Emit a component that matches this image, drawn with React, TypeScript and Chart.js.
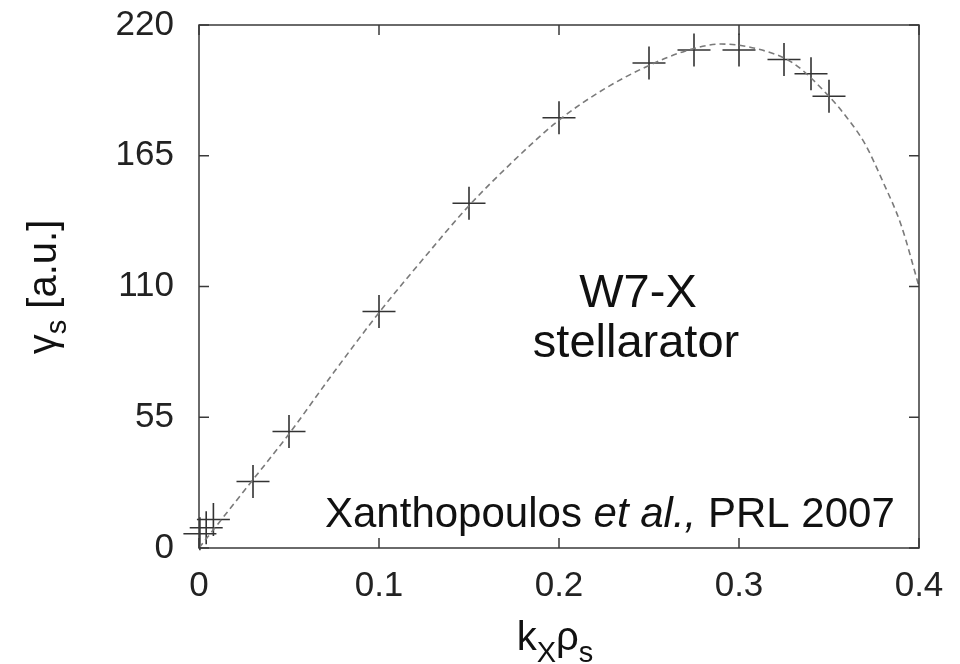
import React, { useEffect, useRef } from "react";
import { Chart, registerables } from "chart.js";

Chart.register(...registerables);

// Simulation points (crosses)
const measuredK = [0.0005, 0.004, 0.008, 0.03, 0.05, 0.1, 0.15, 0.2, 0.25, 0.275, 0.3, 0.325, 0.34, 0.35];
const measuredGamma = [6, 8.5, 12, 28, 49, 99.5, 145, 181, 204, 209.5, 209.5, 205.5, 199.5, 190];

// Dashed fit curve
const fitK = [0, 0.025, 0.05, 0.075, 0.1, 0.125, 0.15, 0.175, 0.2, 0.225, 0.25, 0.27, 0.29, 0.31, 0.33, 0.35, 0.36, 0.37, 0.38, 0.39, 0.4];
const fitGamma = [0, 24, 48, 74, 99, 122, 144, 163, 180, 193, 203, 209, 212, 210, 204, 190, 181, 170, 154, 136, 110];

const xTicks = [0, 0.1, 0.2, 0.3, 0.4];
const yTicks = [0, 55, 110, 165, 220];

const FONT = "'Liberation Sans', Arial, Helvetica, sans-serif";

const framePlugin = {
  id: "gnuplotFrame",
  afterDatasetsDraw(chart: any) {
    const { ctx, chartArea } = chart;
    const { left, right, top, bottom } = chartArea;
    const xs = chart.scales.x;
    const ys = chart.scales.y;
    ctx.save();
    ctx.strokeStyle = "#3a3a3a";
    ctx.lineWidth = 1.5;
    ctx.beginPath();
    ctx.rect(left, top, right - left, bottom - top);
    ctx.stroke();
    const tl = 10;
    ctx.beginPath();
    xTicks.forEach((v) => {
      const px = xs.getPixelForValue(v);
      ctx.moveTo(px, bottom);
      ctx.lineTo(px, bottom - tl);
      ctx.moveTo(px, top);
      ctx.lineTo(px, top + tl);
    });
    yTicks.forEach((v) => {
      const py = ys.getPixelForValue(v);
      ctx.moveTo(left, py);
      ctx.lineTo(left + tl, py);
      ctx.moveTo(right, py);
      ctx.lineTo(right - tl, py);
    });
    ctx.stroke();
    ctx.restore();
  },
  afterDraw(chart: any) {
    const { ctx } = chart;
    ctx.save();
    ctx.fillStyle = "#111";
    ctx.textBaseline = "alphabetic";

    // Annotation
    ctx.textAlign = "center";
    ctx.font = `47px ${FONT}`;
    ctx.fillText("W7-X", 638, 307);
    ctx.fillText("stellarator", 636, 357);

    // Citation
    ctx.textAlign = "left";
    let cx = 325;
    const cy = 527;
    ctx.font = `42px ${FONT}`;
    ctx.fillText("Xanthopoulos ", cx, cy);
    cx += ctx.measureText("Xanthopoulos ").width;
    ctx.font = `italic 42px ${FONT}`;
    ctx.fillText("et al.,", cx, cy);
    cx += ctx.measureText("et al.,").width;
    ctx.font = `42px ${FONT}`;
    ctx.fillText(" PRL 2007", cx, cy);

    // X axis title: k_x rho_s
    const big = `40px ${FONT}`;
    const small = `29px ${FONT}`;
    const parts = [
      { t: "k", f: big, dy: 0 },
      { t: "X", f: small, dy: 12 },
      { t: "ρ", f: big, dy: 0 },
      { t: "s", f: small, dy: 12 },
    ];
    let total = 0;
    parts.forEach((p) => {
      ctx.font = p.f;
      total += ctx.measureText(p.t).width;
    });
    let x = 555 - total / 2;
    parts.forEach((p) => {
      ctx.font = p.f;
      ctx.fillText(p.t, x, 650 + p.dy);
      x += ctx.measureText(p.t).width;
    });

    // Y axis title: gamma_s [a.u.]
    const yparts = [
      { t: "γ", f: big, dy: 0 },
      { t: "s", f: small, dy: 10 },
      { t: " [a.u.]", f: big, dy: 0 },
    ];
    ctx.translate(56, 287);
    ctx.rotate(-Math.PI / 2);
    let ytot = 0;
    yparts.forEach((p) => {
      ctx.font = p.f;
      ytot += ctx.measureText(p.t).width;
    });
    let yx = -ytot / 2;
    yparts.forEach((p) => {
      ctx.font = p.f;
      ctx.fillText(p.t, yx, p.dy);
      yx += ctx.measureText(p.t).width;
    });
    ctx.restore();
  },
};

export default function App() {
  const ref = useRef<HTMLCanvasElement | null>(null);

  useEffect(() => {
    document.body.style.margin = "0";
    const canvas = ref.current;
    if (!canvas) return;
    const chart = new Chart(canvas, {
      type: "scatter",
      data: {
        datasets: [
          {
            label: "fit",
            data: fitK.map((k, i) => ({ x: k, y: fitGamma[i] })),
            showLine: true,
            borderColor: "#7a7a7a",
            borderWidth: 1.6,
            borderDash: [6, 4],
            pointRadius: 0,
            cubicInterpolationMode: "monotone",
            fill: false,
          } as any,
          {
            label: "simulation",
            data: measuredK.map((k, i) => ({ x: k, y: measuredGamma[i] })),
            showLine: false,
            pointStyle: "cross",
            pointRadius: 16.5,
            pointBorderColor: "#333",
            borderColor: "#333",
            pointBorderWidth: 1.6,
            borderWidth: 1.6,
            clip: false,
          } as any,
        ],
      },
      options: {
        responsive: false,
        animation: false,
        devicePixelRatio: 1,
        layout: { padding: { top: 25, right: 41, left: 0, bottom: 0 } },
        plugins: {
          legend: { display: false },
          tooltip: { enabled: false },
        },
        scales: {
          x: {
            type: "linear",
            min: 0,
            max: 0.4,
            afterBuildTicks: (s: any) => {
              s.ticks = xTicks.map((v) => ({ value: v }));
            },
            afterFit: (s: any) => {
              s.height = 116;
              s.paddingLeft = 0;
              s.paddingRight = 0;
            },
            ticks: {
              callback: (v: any) => String(+Number(v).toFixed(1)),
              font: { family: FONT, size: 35 },
              color: "#222",
              padding: 17,
              maxRotation: 0,
              autoSkip: false,
            },
            grid: { display: false, drawTicks: false },
            border: { display: false },
          },
          y: {
            type: "linear",
            min: 0,
            max: 220,
            afterBuildTicks: (s: any) => {
              s.ticks = yTicks.map((v) => ({ value: v }));
            },
            afterFit: (s: any) => {
              s.width = 199;
              s.paddingTop = 0;
              s.paddingBottom = 0;
            },
            ticks: {
              callback: (v: any) => String(v),
              font: { family: FONT, size: 35 },
              color: "#222",
              padding: 25,
              autoSkip: false,
            },
            grid: { display: false, drawTicks: false },
            border: { display: false },
          },
        },
      } as any,
      plugins: [framePlugin],
    });
    return () => chart.destroy();
  }, []);

  return (
    <div style={{ width: 960, height: 664, background: "#fff" }}>
      <canvas ref={ref} width={960} height={664} style={{ display: "block" }} />
    </div>
  );
}
